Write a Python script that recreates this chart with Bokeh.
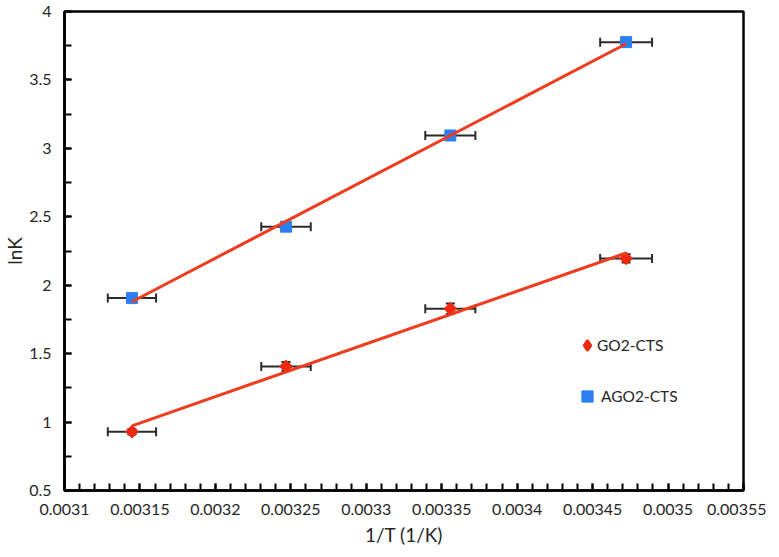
import numpy as np
from bokeh.plotting import figure
from bokeh.models import (ColumnDataSource, Whisker, TeeHead, FixedTicker,
                          Legend, LegendItem, Range1d)
from bokeh.embed import file_html
from bokeh.resources import INLINE

# ---------------- data ----------------
inv_T = [0.0031447, 0.0032468, 0.0033557, 0.0034722]
lnK_go2 = [0.930, 1.406, 1.828, 2.196]
lnK_ago2 = [1.906, 2.428, 3.094, 3.776]
x_err = [0.0000160, 0.0000164, 0.0000166, 0.0000172]
go2_y_err = [0.02, 0.033, 0.038, 0.03]
series_names = ["GO2-CTS", "AGO2-CTS"]
x_ticks = [0.0031, 0.00315, 0.0032, 0.00325, 0.0033, 0.00335, 0.0034, 0.00345, 0.0035, 0.00355]
x_tick_labels = ["0.0031", "0.00315", "0.0032", "0.00325", "0.0033", "0.00335",
                 "0.0034", "0.00345", "0.0035", "0.00355"]
y_ticks = [0.5, 1.0, 1.5, 2.0, 2.5, 3.0, 3.5, 4.0]
y_tick_labels = ["0.5", "1", "1.5", "2", "2.5", "3", "3.5", "4"]
x_title = "1/T (1/K)"
y_title = "lnK"

FONT = "Lato"
TXT = "#262626"
RED_LINE = "#f03c1e"
RED = "#f0280f"
BLUE = "#2d7ff0"
ERR = "#2b2b2b"

p = figure(frame_width=679, frame_height=479, output_backend="svg", toolbar_location=None,
           x_range=Range1d(x_ticks[0], x_ticks[-1]), y_range=Range1d(y_ticks[0], y_ticks[-1]),
           min_border_left=61, min_border_right=23, min_border_top=11, min_border_bottom=58)
p.grid.visible = False
p.outline_line_color = "black"
p.outline_line_width = 2.5
p.background_fill_color = "white"
p.border_fill_color = "white"

# axes
minor_x = [x_ticks[0] + i * 0.00001 for i in range(int(round((x_ticks[-1] - x_ticks[0]) / 0.00001)) + 1)]
p.xaxis.ticker = FixedTicker(ticks=x_ticks, minor_ticks=minor_x)
p.xaxis.major_label_overrides = {t: l for t, l in zip(x_ticks, x_tick_labels)}
minor_y = [y_ticks[0] + i * 0.25 for i in range(15)]
p.yaxis.ticker = FixedTicker(ticks=y_ticks, minor_ticks=minor_y)
p.yaxis.major_label_overrides = {t: l for t, l in zip(y_ticks, y_tick_labels)}

for ax in (p.xaxis[0], p.yaxis[0]):
    ax.axis_line_color = "black"
    ax.axis_line_width = 2.5
    ax.major_tick_in = 7
    ax.major_tick_out = 0
    ax.minor_tick_in = 7
    ax.minor_tick_out = 0
    ax.major_tick_line_color = "black"
    ax.minor_tick_line_color = "black"
    ax.major_tick_line_width = 2
    ax.minor_tick_line_width = 2
    ax.major_label_text_font = FONT
    ax.major_label_text_font_size = "16px"
    ax.major_label_text_color = TXT
    ax.axis_label_text_font = FONT
    ax.axis_label_text_font_size = "19px"
    ax.axis_label_text_font_style = "normal"
    ax.axis_label_text_color = TXT
p.xaxis.axis_label = x_title
p.yaxis.axis_label = y_title
p.xaxis.major_label_standoff = 13
p.xaxis.axis_label_standoff = 5
p.yaxis.major_label_standoff = 13
p.yaxis.axis_label_standoff = 0

# sources
src_go2 = ColumnDataSource(dict(
    x=inv_T, y=lnK_go2,
    xl=[a - e for a, e in zip(inv_T, x_err)], xu=[a + e for a, e in zip(inv_T, x_err)],
    yl=[a - e for a, e in zip(lnK_go2, go2_y_err)], yu=[a + e for a, e in zip(lnK_go2, go2_y_err)],
))
src_ago2 = ColumnDataSource(dict(
    x=inv_T, y=lnK_ago2,
    xl=[a - e for a, e in zip(inv_T, x_err)], xu=[a + e for a, e in zip(inv_T, x_err)],
))

# error bars
for src in (src_go2, src_ago2):
    w = Whisker(source=src, base="y", lower="xl", upper="xu", dimension="width",
                line_color=ERR, line_width=2,
                lower_head=TeeHead(size=9, line_color=ERR, line_width=2),
                upper_head=TeeHead(size=9, line_color=ERR, line_width=2))
    p.add_layout(w)
wv = Whisker(source=src_go2, base="x", lower="yl", upper="yu", dimension="height",
             line_color=ERR, line_width=2,
             lower_head=TeeHead(size=9, line_color=ERR, line_width=2),
             upper_head=TeeHead(size=9, line_color=ERR, line_width=2))
p.add_layout(wv)

# markers (a diamond glyph under the red points supplies the legend symbol)
r_go2_leg = p.scatter("x", "y", source=src_go2, marker="diamond", size=6, line_width=4,
                      line_join="round", fill_color=RED, line_color=RED)
r_go2 = p.scatter("x", "y", source=src_go2, marker="square", angle=np.pi / 4,
                  size=9, fill_color=RED, line_color=RED)
r_ago2 = p.scatter("x", "y", source=src_ago2, marker="square",
                   size=11, fill_color=BLUE, line_color=BLUE)

# linear trend lines (least squares)
xa = np.array(inv_T)
for ys in (lnK_go2, lnK_ago2):
    k, b = np.polyfit(xa, np.array(ys), 1)
    xs = [xa.min(), xa.max()]
    p.line(xs, [k * v + b for v in xs], line_color=RED_LINE, line_width=3)

common = dict(orientation="vertical", padding=0, margin=0, border_line_color=None,
              background_fill_alpha=0, label_text_font=FONT, label_text_font_size="15.5px",
              label_text_color=TXT)
leg1 = Legend(items=[LegendItem(label=series_names[0], renderers=[r_go2_leg])],
              location=(513, 135), glyph_width=20, glyph_height=20, label_standoff=0, **common)
leg2 = Legend(items=[LegendItem(label=series_names[1], renderers=[r_ago2])],
              location=(509, 80), glyph_width=28, glyph_height=28, label_standoff=-6, **common)
p.add_layout(leg1)
p.add_layout(leg2)

open("out.html", "w").write(file_html(p, INLINE))
